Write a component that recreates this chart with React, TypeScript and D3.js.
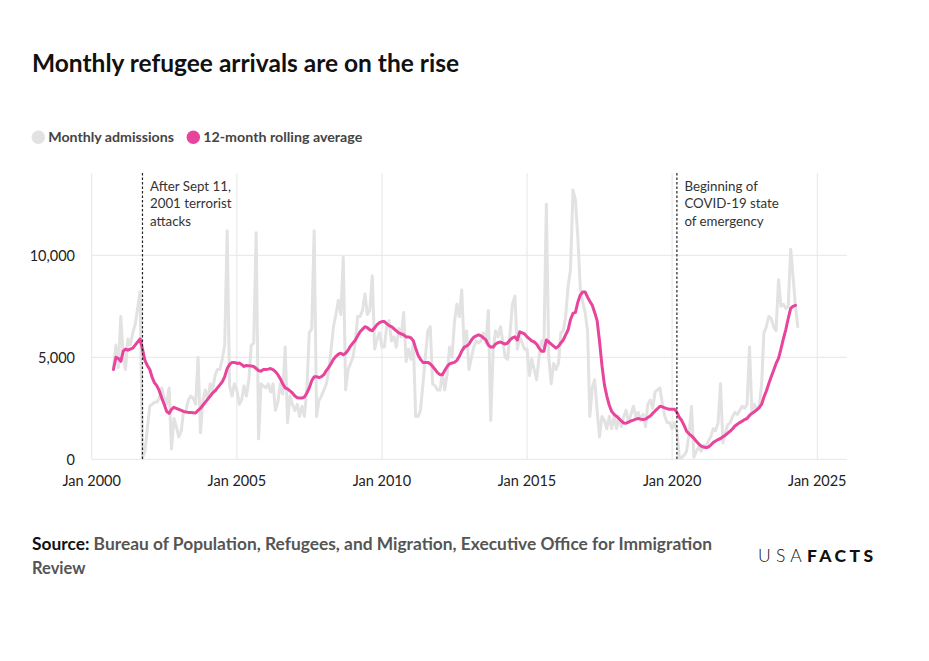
import React from 'react';
import * as d3 from 'd3';

// Monthly series start in October 2000 (one value per month)
const seriesStart = new Date(2000, 9, 1);

const monthlyAdmissions = [
  4500, 5600, 4500, 7000, 5000, 4400, 5900, 5600, 6200, 6600, 7400, 8200, 50, 400, 1500, 2600,
  2700, 2800, 2800, 3000, 3500, 3000, 2700, 3500, 500, 2000, 1600, 1100, 1400, 2300, 2400, 2900,
  3100, 3000, 2700, 5000, 1300, 2900, 3400, 2900, 3700, 3400, 4100, 4400, 4400, 4900, 5600, 11200,
  3600, 3100, 3700, 3400, 2700, 2900, 3600, 3100, 3900, 5600, 5700, 11100, 1000, 3700, 3600, 3500,
  3700, 3300, 3700, 2400, 2800, 3700, 3200, 5500, 1800, 3100, 2700, 2400, 2700, 2100, 2600, 2100,
  3400, 6200, 6400, 11200, 2100, 2900, 3100, 3400, 3700, 4300, 5400, 6500, 7100, 7800, 7100, 9900,
  3400, 4400, 4700, 5000, 5800, 7000, 7000, 7300, 8100, 7100, 7300, 9000, 5400, 5900, 6200, 5500,
  5500, 6500, 6800, 5800, 6000, 5500, 6400, 6000, 7200, 4800, 5400, 4900, 5700, 2100, 2100, 2400,
  3700, 5000, 6300, 6500, 3700, 3600, 3400, 3400, 4200, 3400, 4200, 5500, 5000, 6700, 7600, 7000,
  8300, 5400, 6300, 4400, 5000, 5500, 5800, 5700, 5800, 6200, 5700, 7300, 1900, 5400, 6300, 6000,
  6500, 5800, 5000, 4900, 6200, 7600, 8000, 5400, 6000, 5700, 5400, 5400, 4100, 4900, 4400, 3900,
  5000, 5800, 5500, 12500, 5000, 3700, 4700, 4400, 4700, 6200, 6300, 7000, 8500, 9300, 13200, 12700,
  10900, 8400, 7700, 7200, 6300, 2100, 3500, 3900, 2400, 1100, 2100, 1900, 1500, 2100, 1500, 2100,
  1500, 2100, 1600, 2100, 2400, 1800, 2200, 2600, 2100, 2300, 1900, 2200, 1600, 2700, 2900, 2500,
  3300, 3400, 3500, 2700, 2100, 1800, 1800, 1500, 1800, 1400, 50, 100, 200, 400, 1200, 2600,
  100, 400, 600, 400, 700, 600, 900, 1100, 1500, 1400, 1800, 3700, 800, 1300, 1700, 1800,
  2100, 2300, 2200, 2400, 2600, 2500, 2700, 5500, 2300, 2700, 2400, 2600, 3700, 6200, 6500, 7000,
  6900, 6500, 6300, 8800, 7500, 7600, 7400, 7500, 10300, 9000, 7500, 6500,
];

const rollingAverage = [
  4400, 5000, 4950, 4800, 5300, 5400, 5350, 5400, 5450, 5600, 5750, 5900, 5400, 4850, 4600, 4400,
  4000, 3750, 3600, 3350, 3000, 2700, 2350, 2250, 2450, 2550, 2500, 2450, 2400, 2350, 2320, 2300,
  2300, 2280, 2270, 2400, 2500, 2650, 2800, 2950, 3100, 3250, 3350, 3500, 3650, 3800, 4050, 4450,
  4650, 4750, 4750, 4700, 4720, 4650, 4550, 4600, 4580, 4570, 4550, 4450, 4350, 4320, 4400, 4400,
  4420, 4450, 4400, 4300, 4150, 3950, 3700, 3500, 3450, 3350, 3250, 3100, 3020, 3000, 3000, 3050,
  3250, 3500, 3850, 4050, 4050, 4000, 4050, 4150, 4350, 4500, 4700, 4900, 5050, 5150, 5200, 5120,
  5200, 5350, 5550, 5700, 5850, 6050, 6250, 6380, 6500, 6450, 6350, 6300, 6450, 6600, 6700, 6750,
  6750, 6650, 6550, 6500, 6400, 6300, 6200, 6150, 6100, 6000, 6000, 5950, 5800, 5450, 5100, 4900,
  4750, 4750, 4750, 4680, 4550, 4400, 4250, 4150, 4150, 4350, 4550, 4680, 4720, 4750, 4850, 5050,
  5300, 5500, 5550, 5650, 5850, 5980, 6050, 6100, 6050, 5950, 5850, 5600, 5500, 5500, 5650, 5720,
  5750, 5700, 5650, 5700, 5850, 5950, 6000, 5850, 6250, 6200, 6150, 6000, 5900, 5800, 5750, 5650,
  5450, 5300, 5300, 5850, 5750, 5650, 5550, 5450, 5550, 5700, 5850, 6100, 6350, 6850, 7150, 7200,
  7700, 8050, 8200, 8200, 7950, 7750, 7550, 7200, 6800, 5800, 4600, 3650, 3100, 2650, 2350, 2200,
  2100, 2000, 1880, 1780, 1770, 1820, 1880, 1920, 1970, 2000, 1970, 1950, 1970, 2050, 2120, 2250,
  2370, 2480, 2600, 2570, 2520, 2480, 2450, 2450, 2450, 2300, 2050, 1900, 1650, 1380, 1250, 1150,
  1030, 880, 750, 650, 600, 570, 600, 700, 820, 900, 970, 1020, 1100, 1180, 1280, 1380,
  1500, 1630, 1720, 1800, 1870, 1950, 2000, 2150, 2250, 2330, 2420, 2530, 2700, 3050, 3350, 3700,
  4050, 4350, 4700, 4950, 5400, 5900, 6350, 6900, 7400, 7500, 7550,
];

const yTicks = [0, 5000, 10000];
const xTickYears = [2000, 2005, 2010, 2015, 2020, 2025];
const annotations = [
  { date: new Date(2001, 9, 1), lines: ['After Sept 11,', '2001 terrorist', 'attacks'] },
  { date: new Date(2020, 2, 1), lines: ['Beginning of', 'COVID-19 state', 'of emergency'] },
];
const legendItems = [
  { label: 'Monthly admissions', color: '#e2e2e2' },
  { label: '12-month rolling average', color: '#e8449c' },
];

const FONT = "Lato, 'Noto Sans', sans-serif";
const PINK = '#e8449c';
const GREY = '#e2e2e2';

export default function App() {
  const W = 929;
  const H = 661;
  const plotLeft = 91.7;
  const plotRight = 847;
  const plotTop = 173;
  const plotBottom = 459.3;

  const x = d3
    .scaleTime()
    .domain([new Date(2000, 0, 1), new Date(2025, 0, 1)])
    .range([plotLeft, 817.3]);
  const y = d3.scaleLinear().domain([0, 10000]).range([plotBottom, 255.3]);

  const dateAt = (i: number) => d3.timeMonth.offset(seriesStart, i);

  const line = d3
    .line<number>()
    .x((_, i) => x(dateAt(i)))
    .y((d) => y(d))
    .curve(d3.curveLinear);

  const fmt = d3.format(',');

  return (
    <svg
      width={W}
      height={H}
      viewBox={`0 0 ${W} ${H}`}
      style={{ position: 'absolute', left: 0, top: 0, background: '#fff' }}
      fontFamily={FONT}
    >
      <rect x={0} y={0} width={W} height={H} fill="#fff" />
      {/* Title */}
      <text x={32} y={72} fontSize={25} fontWeight={700} fill="#111" textLength={427} lengthAdjust="spacingAndGlyphs">
        Monthly refugee arrivals are on the rise
      </text>

      {/* Legend */}
      <g>
        <circle cx={38.3} cy={137.3} r={6.7} fill={legendItems[0].color} />
        <text x={48.3} y={142.3} fontSize={14} fontWeight={700} fill="#444" textLength={125.7} lengthAdjust="spacingAndGlyphs">
          {legendItems[0].label}
        </text>
        <circle cx={193.3} cy={137.3} r={6.7} fill={legendItems[1].color} />
        <text x={203.3} y={142.3} fontSize={14} fontWeight={700} fill="#444" textLength={159} lengthAdjust="spacingAndGlyphs">
          {legendItems[1].label}
        </text>
      </g>

      {/* Gridlines */}
      <g>
        {yTicks.map((t) => (
          <line key={t} x1={plotLeft} x2={plotRight} y1={y(t)} y2={y(t)} stroke="#e6e6e6" strokeWidth={1} />
        ))}
        {xTickYears.map((yr) => {
          const xx = x(new Date(yr, 0, 1));
          return <line key={yr} x1={xx} x2={xx} y1={plotTop} y2={plotBottom} stroke="#e6e6e6" strokeWidth={1} />;
        })}
      </g>

      {/* Y axis labels */}
      <g>
        {yTicks.map((t) => (
          <text key={t} x={75} y={y(t) + 5.5} fontSize={14.5} fill="#222" textAnchor="end">
            {fmt(t)}
          </text>
        ))}
      </g>

      {/* X axis labels */}
      <g>
        {xTickYears.map((yr) => (
          <text key={yr} x={x(new Date(yr, 0, 1))} y={486} fontSize={14.5} fill="#222" textAnchor="middle">
            {`Jan ${yr}`}
          </text>
        ))}
      </g>

      {/* Series */}
      <path d={line(monthlyAdmissions) || ''} fill="none" stroke={GREY} strokeWidth={3} strokeLinejoin="round" strokeLinecap="round" />
      <path d={line(rollingAverage) || ''} fill="none" stroke={PINK} strokeWidth={3} strokeLinejoin="round" strokeLinecap="round" />

      {/* Annotations */}
      {annotations.map((a, k) => {
        const xx = x(a.date);
        return (
          <g key={k}>
            <line x1={xx} x2={xx} y1={plotTop} y2={plotBottom} stroke="#222" strokeWidth={1.2} strokeDasharray="2.5,2" />
            {a.lines.map((l, j) => (
              <text key={j} x={xx + 7.5} y={191 + j * 17.3} fontSize={13.3} fill="#333">
                {l}
              </text>
            ))}
          </g>
        );
      })}

      {/* Source */}
      <text x={32} y={550} fontSize={16.5} fontWeight={700} fill="#555" textLength={680} lengthAdjust="spacingAndGlyphs">
        <tspan fill="#111">Source:</tspan> Bureau of Population, Refugees, and Migration, Executive Office for Immigration
      </text>
      <text x={32} y={574} fontSize={16.5} fontWeight={700} fill="#555">
        Review
      </text>

      {/* Logo */}
      <text x={758} y={562} fontSize={17.5} fill="#111">
        <tspan fontWeight={300} letterSpacing={5.2}>USA</tspan>
        <tspan fontWeight={900} letterSpacing={3.4}>FACTS</tspan>
      </text>
    </svg>
  );
}
